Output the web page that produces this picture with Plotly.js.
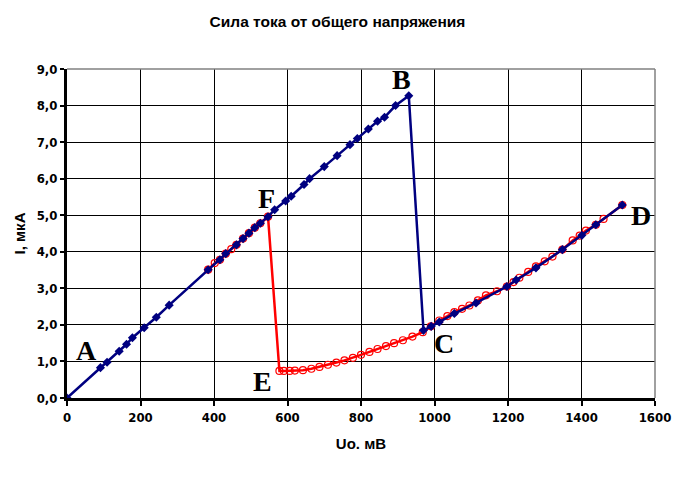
<!DOCTYPE html>
<html>
<head>
<meta charset="utf-8">
<script src="https://cdn.plot.ly/plotly-3.0.1.min.js"></script>
<style>html,body{margin:0;padding:0;background:#fff;}#chart{width:675px;height:477px;}</style>
</head>
<body>
<div id="chart"></div>
<script>
// Blue series (upward sweep A -> B, jump to C, then C -> D)
const blueU = [0, 91, 109, 142, 162, 178, 210, 243, 278, 384, 416, 432, 461, 479, 495, 511, 526, 547, 565, 595, 610, 645, 660, 700, 735, 770, 790, 820, 845, 864, 894, 930, 970, 991, 1013, 1054, 1113, 1197, 1222, 1276, 1348, 1401, 1439, 1511];
const blueI = [0.00, 0.83, 0.98, 1.28, 1.47, 1.65, 1.92, 2.21, 2.54, 3.51, 3.78, 3.95, 4.19, 4.36, 4.51, 4.66, 4.78, 4.96, 5.15, 5.39, 5.52, 5.84, 6.00, 6.33, 6.63, 6.93, 7.10, 7.36, 7.57, 7.68, 8.00, 8.27, 1.85, 1.96, 2.08, 2.31, 2.60, 3.05, 3.23, 3.56, 4.06, 4.45, 4.74, 5.28];

// Red series (F region, drop to E, curve E -> D)
const redU = [384, 402, 416, 432, 447, 461, 479, 495, 511, 526, 547, 578, 590, 606, 620, 642, 665, 687, 710, 733, 755, 778, 800, 823, 845, 868, 890, 914, 940, 968, 990, 1013, 1035, 1054, 1075, 1095, 1118, 1140, 1170, 1197, 1215, 1231, 1255, 1276, 1300, 1321, 1348, 1376, 1395, 1412, 1439, 1460, 1511];
const redI = [3.51, 3.69, 3.78, 3.95, 4.07, 4.19, 4.36, 4.51, 4.66, 4.78, 4.96, 0.74, 0.74, 0.74, 0.75, 0.76, 0.80, 0.85, 0.91, 0.97, 1.03, 1.10, 1.18, 1.26, 1.34, 1.42, 1.50, 1.58, 1.68, 1.80, 1.96, 2.12, 2.24, 2.35, 2.44, 2.53, 2.67, 2.81, 2.92, 3.05, 3.17, 3.29, 3.45, 3.60, 3.74, 3.87, 4.06, 4.31, 4.44, 4.58, 4.74, 4.90, 5.28];

const xTicks = [0, 200, 400, 600, 800, 1000, 1200, 1400, 1600];
const yTicks = [0, 1, 2, 3, 4, 5, 6, 7, 8, 9];

const pointLabels = ['A', 'B', 'C', 'D', 'E', 'F'];
const labelU = [54, 911, 1027, 1562, 532, 544];
const labelI = [1.30, 8.72, 1.49, 4.99, 0.46, 5.46];

const tickFont = {family: '"DejaVu Sans Condensed", "Liberation Sans Narrow", "Arial Narrow", sans-serif', size: 13, color: '#000', weight: 'bold'};
const titleFamily = '"Liberation Sans", Arial, sans-serif';

const traces = [
  {
    x: redU, y: redI, type: 'scatter', mode: 'lines+markers',
    line: {color: '#ff0000', width: 2.5},
    marker: {symbol: 'circle-open', size: 7, color: '#ff0000', line: {width: 1.2, color: '#ff0000'}},
    hoverinfo: 'skip', showlegend: false
  },
  {
    x: blueU, y: blueI, type: 'scatter', mode: 'lines+markers',
    line: {color: '#000080', width: 2.5},
    marker: {symbol: 'diamond', size: 7, color: '#000080'},
    hoverinfo: 'skip', showlegend: false
  }
];

const annotations = pointLabels.map((t, i) => ({
  x: labelU[i], y: labelI[i], xref: 'x', yref: 'y', text: '<b>' + t + '</b>',
  showarrow: false, font: {family: '"Liberation Serif", "Times New Roman", serif', size: 28, color: '#000'}
}));

const layout = {
  width: 675, height: 477,
  margin: {l: 67, r: 20, t: 69, b: 79},
  paper_bgcolor: '#fff', plot_bgcolor: '#fff',
  separators: ', ',
  title: {text: 'Сила тока от общего напряжения', x: 0.5, xanchor: 'center', y: 0.955, yanchor: 'middle',
          font: {family: titleFamily, size: 15.5, color: '#000', weight: 'bold'}},
  xaxis: {
    range: [0, 1600], tickvals: xTicks, ticktext: xTicks.map(String),
    showgrid: true, gridcolor: '#000', gridwidth: 1, zeroline: false,
    showline: true, linecolor: '#000', linewidth: 3,
    ticks: 'outside', ticklen: 5, tickwidth: 2, tickcolor: '#000',
    tickfont: tickFont,
    title: {text: 'Uo. мВ', standoff: 15, font: {family: titleFamily, size: 15, color: '#000', weight: 'bold'}}
  },
  yaxis: {
    range: [0, 9], tickvals: yTicks, tickformat: '.1f',
    showgrid: true, gridcolor: '#000', gridwidth: 1, zeroline: false,
    showline: true, linecolor: '#000', linewidth: 3,
    ticks: 'outside', ticklen: 4, tickwidth: 2, tickcolor: '#000',
    tickfont: tickFont,
    title: {text: 'I, мкА', standoff: 8, font: {family: titleFamily, size: 15, color: '#000', weight: 'bold'}}
  },
  shapes: [
    {type: 'line', xref: 'paper', yref: 'paper', x0: 0, x1: 1, y0: 1, y1: 1, line: {color: '#808080', width: 1.5}, layer: 'above'},
    {type: 'line', xref: 'paper', yref: 'paper', x0: 1, x1: 1, y0: 0, y1: 1, line: {color: '#808080', width: 1.5}, layer: 'above'}
  ],
  annotations: annotations
};

Plotly.newPlot('chart', traces, layout, {staticPlot: true, displayModeBar: false});
</script>
</body>
</html>
